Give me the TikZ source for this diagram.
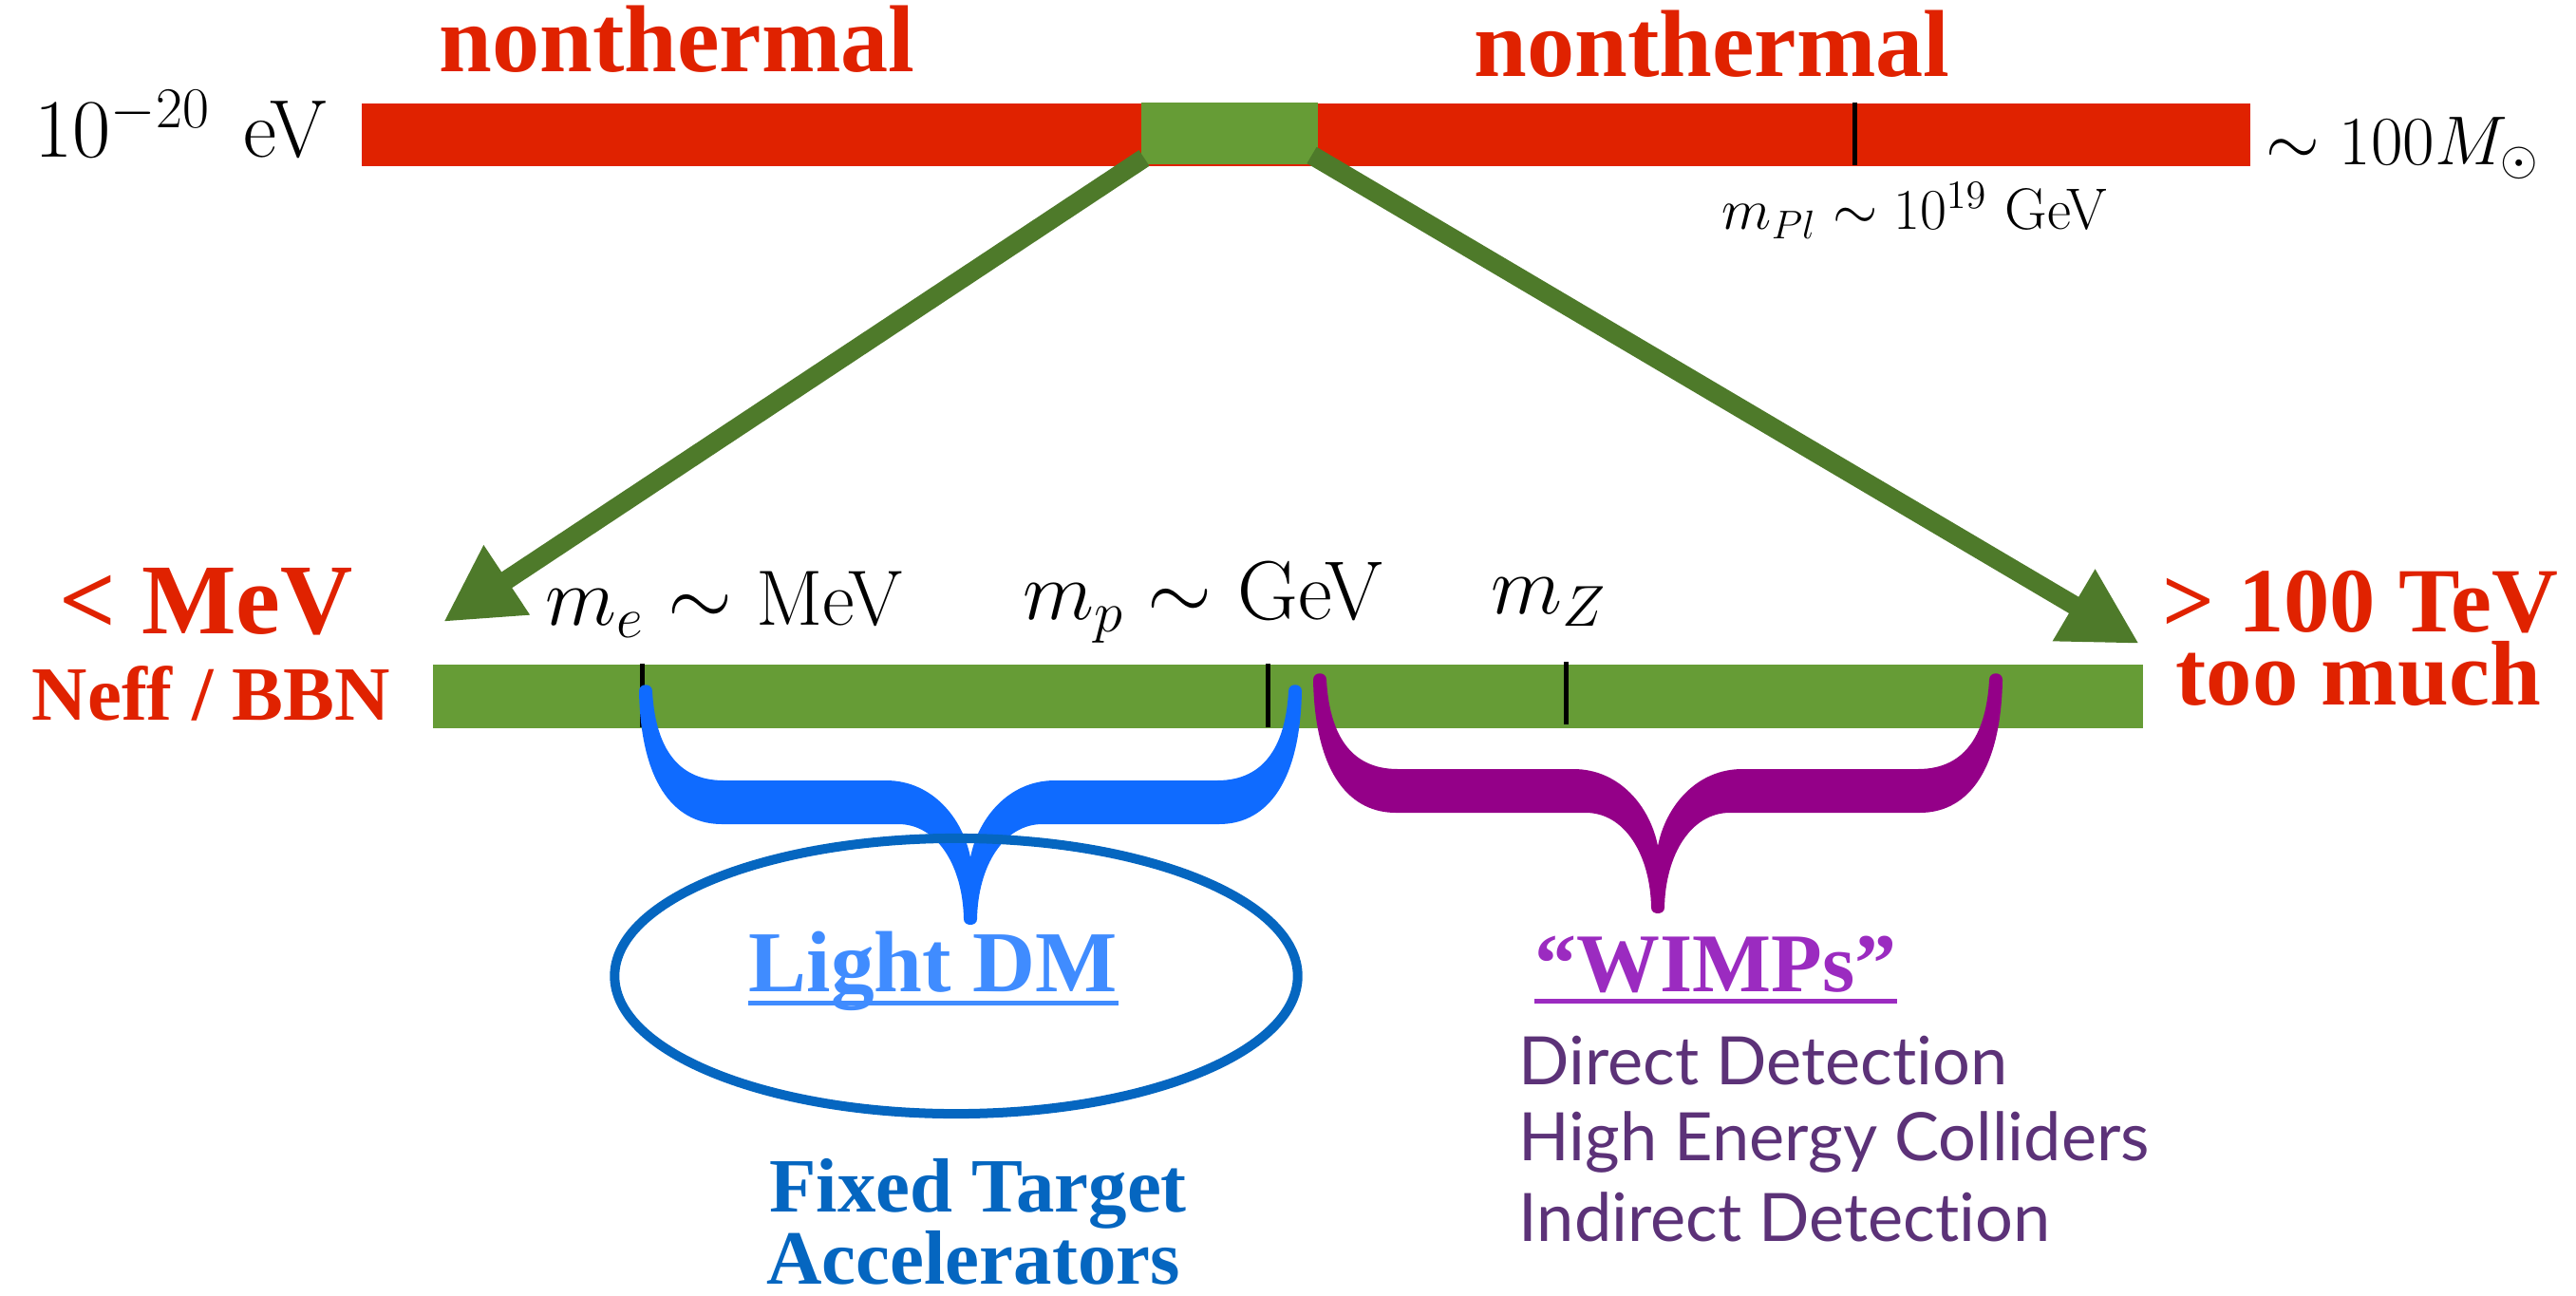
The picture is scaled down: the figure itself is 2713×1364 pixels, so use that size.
\documentclass[tikz,border=0pt]{standalone}
\usepackage{fontspec}
\newfontfamily\tagfont{Liberation Serif}
\newfontfamily\probefont[Ligatures={NoCommon,NoContextual}]{Lato}
\usetikzlibrary{arrows.meta,shapes.geometric,positioning}
\definecolor{nonthermred}{RGB}{224,34,0}
\definecolor{barleaf}{RGB}{102,156,54}
\definecolor{arrowleaf}{RGB}{78,122,42}
\definecolor{braceblue}{RGB}{15,107,255}
\definecolor{ringblue}{RGB}{5,102,192}
\definecolor{ldmblue}{RGB}{64,140,255}
\definecolor{bracepurple}{RGB}{148,0,136}
\definecolor{wimppurple}{RGB}{155,43,192}
\definecolor{probepurple}{RGB}{92,50,120}
% filled curly brace: left tip x, tip y, half width, colour
\newcommand{\massbrace}[4]{\begin{scope}[shift={(#1,#2)}]
  \fill[#4] (7,6) .. controls (10,60) and (30,100) .. (82,100)
    -- ({#3-89},100) .. controls ({#3-40},100) and ({#3-8},140) .. (#3,181)
    .. controls ({#3+8},140) and ({#3+40},100) .. ({#3+89},100)
    -- ({2*#3-82},100) .. controls ({2*#3-30},100) and ({2*#3-10},60) .. ({2*#3-7},6)
    .. controls ({2*#3-7},-3) and ({2*#3+7},-3) .. ({2*#3+7},6)
    .. controls ({2*#3+5},110) and ({2*#3-35},146) .. ({2*#3-80},146)
    -- ({#3+76},146) .. controls ({#3+35},146) and ({#3+8},190) .. ({#3+7},246)
    .. controls ({#3+7},254) and ({#3-7},254) .. ({#3-7},246)
    .. controls ({#3-8},190) and ({#3-35},146) .. ({#3-76},146)
    -- (80,146) .. controls (35,146) and (-5,110) .. (-7,6)
    .. controls (-7,-3) and (7,-3) .. (7,6) -- cycle;\end{scope}}

\begin{document}
\begin{tikzpicture}[x=0.01cm,y=-0.01cm,
  bar/.style={inner sep=0pt,anchor=north west,minimum height=0.66cm},
  tickmark/.style={line width=0.05cm},
  leafarrow/.style={draw=arrowleaf,line width=0.2cm,-{Triangle[length=0.8cm,width=0.82cm]}},
  redtag/.style={text=nonthermred,inner sep=0pt},
  masslbl/.style={inner sep=0pt,anchor=base west},
  probe/.style={inner sep=0pt,anchor=base west,text=probepurple,
    font=\probefont\fontsize{20pt}{24pt}\selectfont}]
\useasboundingbox (0,0) rectangle (2713,1364);

% full mass range
\node[bar,fill=nonthermred,minimum width=19.88cm] (fullscale) at (380,108) {};
\node[bar,fill=barleaf,minimum width=1.86cm,minimum height=0.65cm] (thermwin) at (1201,107) {};
\draw[tickmark] (1953,108) -- (1953,174);
\node[redtag,anchor=base,font=\tagfont\bfseries\fontsize{28.5pt}{32pt}\selectfont] (ntleft) at (713,76) {nonthermal};
\node[redtag,anchor=base,font=\tagfont\bfseries\fontsize{28.5pt}{32pt}\selectfont] (ntright) at (1803,81) {nonthermal};
\node[masslbl,font=\fontsize{24.5pt}{28pt}\selectfont] (lowend) at (36,166) {$10^{-20}$\hspace{0.4em}eV};
\node[masslbl,font=\fontsize{22pt}{26pt}\selectfont] (highend) at (2386,174) {$\sim 100M_\odot$};
\node[masslbl,font=\fontsize{17.5pt}{20pt}\selectfont] (planck) at (1813,242) {$m_{Pl}\sim 10^{19}$ GeV};

% thermal window, zoomed
\node[bar,fill=barleaf,minimum width=18cm,minimum height=0.67cm] (massbar) at (455,699) {};
\draw[tickmark] (676,699) -- (676,766);
\draw[tickmark] (1335,699) -- (1335,766);
\draw[tickmark] (1649,697) -- (1649,763);
\coordinate (lowtip) at (467,655);
\coordinate (hightip) at (2253,678);
\draw[leafarrow] ([shift={(4,-7)}]thermwin.south west) -- (lowtip);
\draw[leafarrow] ([shift={(-7,-10)}]thermwin.south east) -- (hightip);

\node[redtag,anchor=base west,font=\tagfont\bfseries\fontsize{30pt}{34pt}\selectfont] (belowmev) at (62,667) {< MeV};
\node[redtag,anchor=base west,font=\tagfont\bfseries\fontsize{23pt}{24pt}\selectfont] (bbn) at (33,758) {Neff / BBN};
\node[redtag,anchor=base west,font=\tagfont\bfseries\fontsize{27.5pt}{28pt}\selectfont] (abovetev) at (2277,665) {> 100 TeV};
\node[redtag,anchor=base west,font=\tagfont\bfseries\fontsize{27.5pt}{28pt}\selectfont] (toomuch) at (2291,742) {too much};
\node[masslbl,font=\fontsize{23.5pt}{26pt}\selectfont] (melbl) at (574,658) {$m_e\sim$ MeV};
\node[masslbl,font=\fontsize{25pt}{28pt}\selectfont] (mplbl) at (1077,652) {$m_p\sim$ GeV};
\node[masslbl,font=\fontsize{26pt}{30pt}\selectfont] (mzlbl) at (1570,646) {$m_Z$};

\massbrace{680}{722}{342}{braceblue}
\massbrace{1390}{710}{356}{bracepurple}

% light dark matter
\node[draw=ringblue,line width=0.1cm,ellipse,inner sep=0pt,minimum width=7.19cm,minimum height=2.9cm] (ldmring) at (1007,1028) {};
\node[inner sep=0pt,anchor=base west,text=ldmblue,font=\tagfont\bfseries\fontsize{26pt}{30pt}\selectfont] (ldm) at (788,1044) {Light DM};
\draw[ldmblue,line width=0.05cm] ([yshift=-0.12cm]ldm.base west) -- ([yshift=-0.12cm]ldm.base east);
\node[inner sep=0pt,anchor=base,text=ringblue,font=\tagfont\bfseries\fontsize{23pt}{26pt}\selectfont] (fixedtgt) at (1030,1276) {Fixed Target};
\node[inner sep=0pt,anchor=base,text=ringblue,font=\tagfont\bfseries\fontsize{23pt}{26pt}\selectfont] (accel) at (1025,1352) {Accelerators};

% wimps
\node[inner sep=0pt,anchor=base west,text=wimppurple,font=\tagfont\bfseries\fontsize{25pt}{30pt}\selectfont] (wimps) at (1616,1044) {“WIMPs”};
\draw[wimppurple,line width=0.05cm] ([yshift=-0.10cm]wimps.base west) -- ([yshift=-0.10cm]wimps.base east);
\node[probe] (direct) at (1599,1142) {Direct Detection};
\node[probe] (collider) at (1599,1222) {High Energy Colliders};
\node[probe] (indirect) at (1599,1307) {Indirect Detection};
\end{tikzpicture}
\end{document}
